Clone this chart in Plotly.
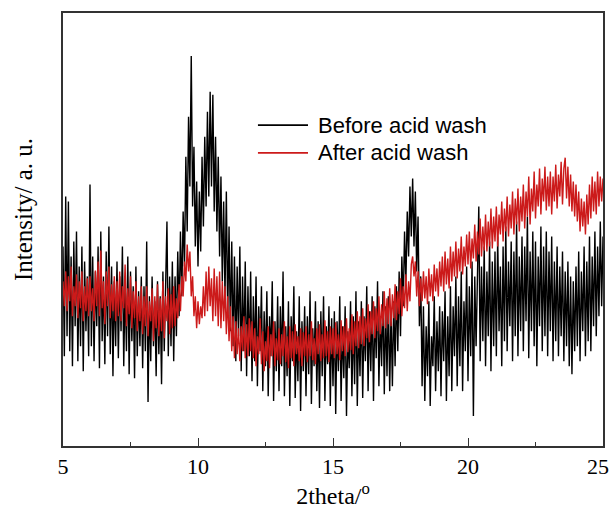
import plotly.graph_objects as go

# Scan grid (2theta, degrees)
two_theta_start = 5.0
two_theta_step = 0.05

# Intensity (a.u.) before acid wash, 20 points per degree
before_acid = [
    200, 90, 250, 110, 245, 95, 190, 80, 205, 120, 215, 85, 180, 100, 200, 75, 185, 115, 170, 90,
    262, 100, 190, 85, 175, 120, 200, 78, 215, 105, 170, 82, 195, 110, 220, 92, 180, 70, 165, 100,
    185, 88, 170, 115, 200, 80, 165, 95, 190, 72, 175, 105, 160, 68, 180, 90, 155, 100, 170, 78,
    160, 95, 205, 44, 150, 85, 170, 100, 145, 70, 165, 92, 150, 62, 175, 95, 160, 225, 90, 170,
    100, 185, 85, 170, 110, 195, 130, 215, 150, 235, 180, 290, 215, 330, 260, 391, 240, 300, 200, 265,
    180, 255, 195, 290, 220, 310, 240, 335, 250, 355, 260, 352, 235, 310, 215, 290, 190, 270, 165, 245,
    150, 255, 130, 220, 115, 205, 100, 190, 85, 180, 110, 200, 75, 170, 95, 185, 70, 160, 90, 175,
    65, 150, 85, 170, 60, 140, 95, 160, 55, 135, 80, 155, 50, 130, 90, 165, 45, 125, 75, 150,
    55, 140, 80, 175, 50, 120, 70, 145, 40, 130, 85, 160, 48, 115, 65, 150, 35, 125, 75, 140,
    50, 130, 72, 155, 42, 118, 80, 145, 55, 125, 38, 135, 70, 150, 45, 120, 82, 140, 40, 128,
    60, 135, 32, 125, 75, 150, 45, 120, 68, 140, 30, 115, 78, 145, 50, 130, 62, 155, 40, 125,
    70, 145, 48, 130, 85, 160, 55, 135, 75, 150, 45, 140, 88, 165, 60, 130, 80, 155, 52, 140,
    70, 150, 55, 135, 60, 145, 80, 160, 95, 175, 110, 190, 140, 215, 165, 235, 190, 260, 210, 268,
    200, 255, 175, 230, 120, 170, 60, 140, 45, 120, 70, 145, 40, 110, 80, 150, 55, 125, 75, 140,
    50, 135, 85, 155, 45, 130, 70, 160, 55, 140, 90, 170, 60, 150, 80, 175, 55, 145, 95, 180,
    65, 160, 90, 185, 30, 170, 100, 195, 240, 85, 180, 105, 200, 80, 175, 110, 205, 75, 185, 100,
    195, 90, 210, 115, 180, 80, 200, 105, 220, 95, 185, 120, 205, 85, 195, 110, 225, 90, 190, 115,
    210, 95, 200, 125, 230, 88, 195, 115, 215, 100, 205, 80, 190, 120, 220, 95, 200, 110, 215, 90,
    195, 115, 210, 85, 185, 105, 200, 90, 180, 110, 195, 85, 175, 100, 185, 80, 170, 72, 165, 95,
    180, 100, 195, 85, 175, 115, 200, 90, 185, 105, 210, 95, 190, 120, 215, 110, 200, 130, 225, 140,
    210,
]

# Intensity (a.u.) after acid wash
after_acid = [
    165, 140, 175, 135, 170, 145, 180, 130, 160, 140, 172, 128, 165, 138, 175, 125, 160, 135, 168, 130,
    170, 135, 158, 125, 176, 140, 185, 130, 196, 138, 165, 122, 175, 140, 180, 128, 162, 135, 170, 125,
    165, 130, 175, 125, 160, 138, 182, 120, 158, 132, 170, 118, 155, 128, 165, 115, 150, 125, 160, 112,
    150, 120, 160, 110, 145, 125, 158, 105, 150, 118, 162, 110, 148, 115, 165, 108, 150, 125, 158, 112,
    152, 118, 160, 120, 148, 128, 162, 135, 170, 150, 185, 165, 202, 175, 195, 150, 170, 130, 150, 118,
    145, 122, 140, 128, 160, 130, 175, 135, 180, 140, 168, 125, 178, 130, 170, 120, 175, 118, 165, 125,
    160, 112, 150, 105, 140, 95, 130, 88, 125, 92, 118, 85, 120, 95, 130, 88, 122, 90, 128, 95,
    125, 88, 118, 80, 110, 92, 128, 82, 115, 75, 105, 85, 120, 78, 112, 90, 125, 80, 108, 86,
    118, 82, 112, 90, 125, 84, 110, 78, 120, 88, 115, 80, 122, 92, 110, 85, 118, 80, 114, 90,
    120, 84, 112, 90, 125, 86, 108, 82, 118, 92, 122, 85, 112, 88, 126, 90, 115, 84, 120, 92,
    118, 88, 124, 92, 112, 86, 126, 95, 120, 90, 128, 94, 118, 96, 132, 92, 125, 100, 135, 98,
    130, 102, 138, 100, 128, 108, 142, 104, 135, 112, 145, 108, 138, 115, 150, 112, 142, 120, 155, 118,
    148, 122, 158, 120, 152, 128, 162, 126, 155, 132, 168, 130, 160, 138, 172, 135, 165, 145, 182, 190,
    170, 185, 150, 175, 140, 168, 145, 175, 148, 170, 142, 178, 150, 172, 145, 182, 155, 178, 150, 185,
    160, 190, 155, 195, 162, 188, 158, 200, 165, 195, 170, 205, 168, 198, 175, 210, 172, 200, 180, 212,
    182, 215, 178, 208, 188, 222, 185, 215, 192, 228, 190, 220, 196, 232, 195, 225, 200, 238, 198, 230,
    205, 240, 200, 232, 212, 245, 205, 238, 215, 250, 210, 242, 218, 255, 212, 248, 222, 258, 215, 250,
    225, 262, 218, 255, 230, 270, 222, 258, 235, 275, 228, 262, 240, 278, 232, 268, 245, 280, 236, 270,
    240, 275, 232, 270, 245, 282, 238, 272, 250, 285, 242, 278, 289, 248, 280, 240, 272, 235, 265, 230,
    262, 225, 255, 215, 248, 220, 245, 212, 252, 222, 262, 228, 270, 235, 265, 232, 275, 240, 270, 245,
    268,
]

series_names = ["Before acid wash", "After acid wash"]
series_colors = ["#000000", "#cc1a1a"]

x_ticks = [5, 10, 15, 20, 25]
x_tick_labels = ["5", "10", "15", "20", "25"]
x_minor_ticks = [7.5, 12.5, 17.5, 22.5]

two_theta = [round(two_theta_start + i * two_theta_step, 2) for i in range(len(before_acid))]

fig = go.Figure()
for name, ys, col in zip(series_names, [before_acid, after_acid], series_colors):
    fig.add_trace(go.Scatter(x=two_theta, y=ys, mode="lines", name=name,
                             line=dict(color=col, width=1.4), showlegend=False))

tick_font = dict(family="Liberation Serif", size=22, color="black")

# manual legend (long line samples as in the original)
leg_x0, leg_x1, leg_tx = 0.361, 0.4537, 0.468
leg_y = [0.741, 0.677]
shapes = []
annotations = []
for name, col, yy in zip(series_names, series_colors, leg_y):
    shapes.append(dict(type="line", xref="paper", yref="paper", x0=leg_x0, x1=leg_x1, y0=yy, y1=yy,
                       line=dict(color=col, width=1.6)))
    annotations.append(dict(xref="paper", yref="paper", x=leg_tx, y=yy, text=name, showarrow=False,
                            xanchor="left", yanchor="middle",
                            font=dict(family="Liberation Sans", size=22, color="black")))

# y-axis title (placed slightly above the centre, as in the original)
annotations.append(dict(xref="paper", yref="paper", x=-0.074, y=0.545, text="Intensity/ a. u.",
                        textangle=-90, showarrow=False, xanchor="center", yanchor="middle",
                        font=dict(family="Liberation Serif", size=25, color="black")))

# last tick label, kept inside the window edge
annotations.append(dict(xref="x", yref="paper", x=x_ticks[-1], y=0, text=x_tick_labels[-1],
                        showarrow=False, xanchor="right", yanchor="top", xshift=8, yshift=-6,
                        font=tick_font))

fig.update_layout(
    width=612, height=516,
    margin=dict(l=63, r=9, t=13, b=70, autoexpand=False),
    paper_bgcolor="white", plot_bgcolor="white",
    shapes=shapes, annotations=annotations,
    showlegend=False,
)
fig.update_xaxes(
    range=[5, 25], tickvals=x_ticks, ticktext=x_tick_labels[:-1] + [""],
    ticks="inside", ticklen=8, tickwidth=1.3, tickcolor="#333",
    automargin=False,
    minor=dict(tickvals=x_minor_ticks, ticks="inside", ticklen=4, tickwidth=1.2, tickcolor="#333"),
    showline=True, mirror=True, linecolor="#333", linewidth=1.5,
    showgrid=False, zeroline=False,
    tickfont=tick_font,
    title=dict(text="2theta/<sup>o</sup>", font=dict(family="Liberation Serif", size=24, color="black"),
               standoff=7),
)
fig.update_yaxes(
    range=[0, 434], showticklabels=False, ticks="", automargin=False,
    showline=True, mirror=True, linecolor="#333", linewidth=1.5,
    showgrid=False, zeroline=False,
)

# page without body margin / scrollbars so the 612x516 figure fills the window
page_css = ("document.documentElement.style.overflow='hidden';"
            "document.body.style.margin='0';document.body.style.overflow='hidden';")
fig.write_html("out.html", post_script=page_css, config={"displayModeBar": False})
